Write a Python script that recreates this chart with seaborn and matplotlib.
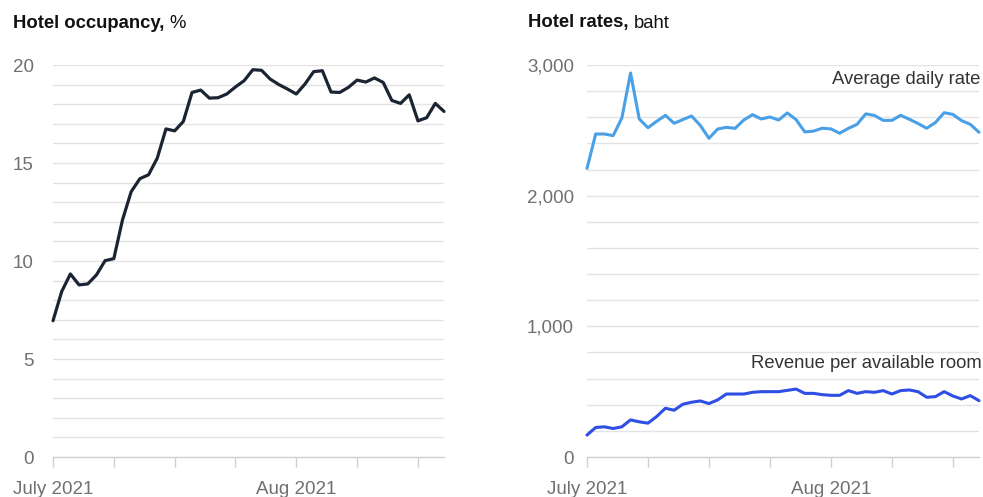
import matplotlib
matplotlib.use("Agg")
import matplotlib.pyplot as plt
import seaborn as sns
import numpy as np
import pandas as pd

# ---- data ----
day_index = list(range(46))
occupancy = [6.95, 8.44, 9.34, 8.78, 8.83, 9.29, 10.02, 10.12, 12.1, 13.54,
             14.2, 14.4, 15.25, 16.74, 16.64, 17.12, 18.6, 18.72, 18.31, 18.33,
             18.52, 18.88, 19.2, 19.76, 19.73, 19.28, 19.0, 18.77, 18.52, 19.03,
             19.66, 19.71, 18.62, 18.6, 18.86, 19.23, 19.13, 19.34, 19.11, 18.19,
             18.04, 18.48, 17.15, 17.31, 18.04, 17.63]
avg_daily_rate = [2209, 2472, 2472, 2459, 2594, 2939, 2587, 2520, 2569, 2615,
                  2554, 2582, 2610, 2538, 2439, 2510, 2523, 2515, 2579, 2620,
                  2587, 2602, 2579, 2633, 2582, 2488, 2494, 2516, 2511, 2478,
                  2515, 2546, 2626, 2614, 2576, 2576, 2615, 2585, 2552, 2516,
                  2560, 2635, 2622, 2574, 2546, 2485]
revpar = [168, 226, 231, 218, 231, 284, 269, 259, 310, 373,
          358, 404, 419, 429, 409, 437, 482, 482, 482, 495,
          500, 500, 500, 510, 520, 487, 487, 477, 472, 472,
          508, 487, 500, 495, 508, 482, 508, 513, 500, 457,
          462, 500, 467, 444, 470, 431]
tick_positions = [0, 7, 14, 21, 28, 35, 42]
tick_labels = ["July 2021", "", "", "", "Aug 2021", "", ""]

df = pd.DataFrame({"day": day_index, "occ": occupancy,
                   "adr": avg_daily_rate, "revpar": revpar})

sns.set_style("white")
plt.rcParams["font.family"] = ["Liberation Sans", "DejaVu Sans"]

W, H = 983, 497
fig = plt.figure(figsize=(W / 100, H / 100), dpi=100)
PX = 72 / 100  # points per pixel

def px_axes(x0, x1, ytop, ybot):
    return fig.add_axes([x0 / W, 1 - ybot / H, (x1 - x0) / W, (ybot - ytop) / H])

ax1 = px_axes(53, 444, 65, 457)
ax2 = px_axes(587, 979, 65, 457)

grid_c = "#e3e3e3"
lab_c = "#707070"
FS = 13.5

def style(ax, ymax, step, major, labels, pad_px):
    ax.set_xlim(0, 45)
    ax.set_ylim(0, ymax)
    for v in np.arange(step, ymax + step / 2, step):
        ax.axhline(v, color=grid_c, lw=1.0, zorder=0)
    for s in ["top", "right", "left"]:
        ax.spines[s].set_visible(False)
    ax.spines["bottom"].set_color("#cfcfcf")
    ax.spines["bottom"].set_linewidth(1.0)
    ax.set_yticks(major)
    ax.set_yticklabels(labels)
    ax.tick_params(axis="y", left=False, length=0, pad=pad_px * PX,
                   labelsize=FS, labelcolor=lab_c)
    ax.set_xticks(tick_positions)
    ax.set_xticklabels(tick_labels)
    ax.tick_params(axis="x", bottom=True, direction="out", length=10 * PX,
                   width=1.0, color="#cfcfcf", pad=10, labelsize=FS,
                   labelcolor=lab_c)
    ax.set_xlabel("")
    ax.set_ylabel("")
    ax.patch.set_alpha(0)

sns.lineplot(data=df, x="day", y="occ", ax=ax1, color="#1b2433", lw=2.3,
             clip_on=False, zorder=3)
style(ax1, 20, 1, [0, 5, 10, 15, 20], ["0", "5", "10", "15", "20"], 19)

sns.lineplot(data=df, x="day", y="adr", ax=ax2, color="#4aa0e6", lw=2.2,
             clip_on=False, zorder=3)
sns.lineplot(data=df, x="day", y="revpar", ax=ax2, color="#2f4ee4", lw=2.2,
             clip_on=False, zorder=3)
style(ax2, 3000, 200, [0, 1000, 2000, 3000], ["0", "1,000", "2,000", "3,000"], 13)

# titles: bold part then regular part right after it
fig.canvas.draw()
renderer = fig.canvas.get_renderer()

def title(x_px, bold, regular):
    t = fig.text(x_px / W, 1 - 23 / H, bold, fontsize=13.3, fontweight="bold",
                 color="#111111", va="center", ha="left")
    bb = t.get_window_extent(renderer=renderer)
    fig.text((bb.x1 + 5) / W, 1 - 23 / H, regular, fontsize=13.3,
             color="#111111", va="center", ha="left")

title(13, "Hotel occupancy,", "%")
title(528, "Hotel rates,", "baht")

# annotations
fig.text(980 / W, 1 - 79 / H, "Average daily rate", fontsize=13.3, color="#333333",
         ha="right", va="center")
fig.text(982 / W, 1 - 363 / H, "Revenue per available room", fontsize=13.3,
         color="#333333", ha="right", va="center")

fig.savefig("out.png", dpi=100)
